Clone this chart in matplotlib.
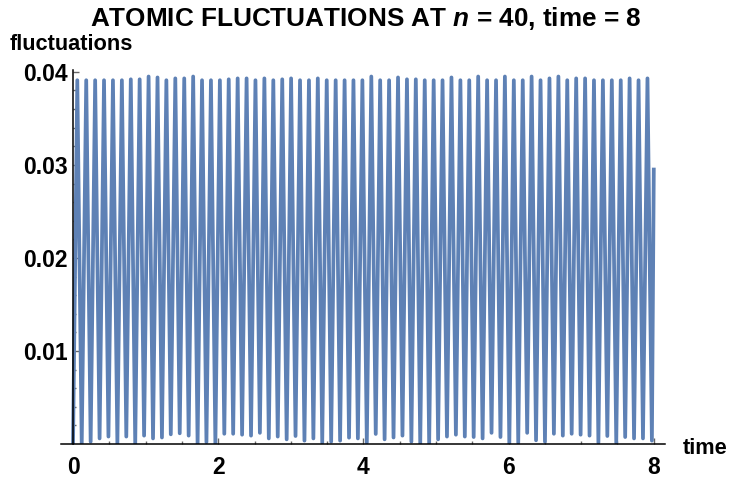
import matplotlib
matplotlib.use("Agg")
import matplotlib.pyplot as plt
from matplotlib.ticker import FixedLocator, FixedFormatter

plt.rcParams['font.family'] = ['Liberation Sans', 'DejaVu Sans']
plt.rcParams['mathtext.fontset'] = 'custom'
plt.rcParams['mathtext.it'] = 'Liberation Sans:italic:bold'
plt.rcParams['mathtext.rm'] = 'Liberation Sans:bold'

# local maxima of the fluctuation curve (time, value)
peak_t = [0.059, 0.182, 0.305, 0.427, 0.550, 0.673, 0.796, 0.918, 1.041, 1.164,
          1.286, 1.409, 1.532, 1.655, 1.777, 1.900, 2.023, 2.145, 2.268, 2.391,
          2.513, 2.636, 2.759, 2.882, 3.004, 3.127, 3.250, 3.372, 3.495, 3.618,
          3.741, 3.863, 3.986, 4.109, 4.231, 4.354, 4.477, 4.600, 4.722, 4.845,
          4.968, 5.090, 5.213, 5.336, 5.458, 5.581, 5.704, 5.827, 5.949, 6.072,
          6.195, 6.317, 6.440, 6.563, 6.686, 6.808, 6.931, 7.054, 7.176, 7.299,
          7.422, 7.545, 7.667, 7.790, 7.913]
peak_v = [0.0391, 0.0391, 0.0391, 0.0391, 0.0391, 0.0391, 0.0392, 0.0392, 0.0395, 0.0394,
          0.0391, 0.0393, 0.0393, 0.0395, 0.0391, 0.0391, 0.0391, 0.0392, 0.0393, 0.0393,
          0.0391, 0.0393, 0.0391, 0.0392, 0.0393, 0.0391, 0.0391, 0.0393, 0.0391, 0.0391,
          0.0391, 0.0391, 0.0391, 0.0395, 0.0391, 0.0391, 0.0394, 0.0392, 0.0392, 0.0391,
          0.0391, 0.0391, 0.0394, 0.0391, 0.0391, 0.0395, 0.0391, 0.0391, 0.0395, 0.0391,
          0.0391, 0.0395, 0.0391, 0.0393, 0.0395, 0.0391, 0.0393, 0.0393, 0.0391, 0.0391,
          0.0391, 0.0391, 0.0393, 0.0391, 0.0393]

# local minima (time, value)
trough_t = [0.120, 0.243, 0.366, 0.488, 0.611, 0.734, 0.857, 0.979, 1.102, 1.225,
            1.347, 1.470, 1.593, 1.716, 1.838, 1.961, 2.084, 2.206, 2.329, 2.452,
            2.574, 2.697, 2.820, 2.943, 3.065, 3.188, 3.311, 3.433, 3.556, 3.679,
            3.802, 3.924, 4.047, 4.170, 4.292, 4.415, 4.538, 4.661, 4.783, 4.906,
            5.029, 5.151, 5.274, 5.397, 5.519, 5.642, 5.765, 5.888, 6.010, 6.133,
            6.256, 6.378, 6.501, 6.624, 6.747, 6.869, 6.992, 7.115, 7.237, 7.360,
            7.483, 7.606, 7.728, 7.851, 7.974]
trough_v = [0.0000, 0.00025, 0.0006, 0.0008, 0.0000, 0.0008, 0.0000, 0.0009, 0.0006, 0.0007,
            0.00104, 0.00115, 0.0009, 0.0000, 0.0002, 0.0000, 0.0011, 0.0011, 0.0010, 0.0009,
            0.0012, 0.0006, 0.0008, 0.0005, 0.00086, 0.00036, 0.0006, 0.00014, 0.00025, 0.00036,
            0.00068, 0.0006, 0.00014, 0.00108, 0.0005, 0.0007, 0.0009, 0.00025, 0.0000, 0.0000,
            0.0005, 0.0008, 0.001, 0.0008, 0.00075, 0.0006, 0.0012, 0.00075, 0.0000, 0.00014,
            0.0012, 0.0004, 0.00025, 0.0011, 0.0009, 0.0011, 0.001, 0.0009, 0.00014, 0.00086,
            0.00014, 0.00075, 0.0006, 0.0006, 0.00036]

start = (0.0, 0.0)
end = (8.0, 0.0295)

xticks = [0, 2, 4, 6, 8]
yticks = [0.01, 0.02, 0.03, 0.04]
ylabels = ["0.01", "0.02", "0.03", "0.04"]

x = [start[0]]
y = [start[1]]
for pt, pv, tt, tv in zip(peak_t, peak_v, trough_t, trough_v):
    x += [pt, tt]
    y += [pv, tv]
x.append(end[0])
y.append(end[1])

fig = plt.figure(figsize=(7.29, 4.8), dpi=100)
ax = fig.add_axes([61.4 / 729, 36 / 480, 604 / 729, 374 / 480])
ax.plot(x, y, color='#5e81b5', lw=2.7, solid_joinstyle='round')

ax.set_xlim(-0.16, 8.16)
ax.set_ylim(0, 0.0402)

for s in ['top', 'right']:
    ax.spines[s].set_visible(False)
ax.spines['left'].set_position(('data', 0))
ax.spines['bottom'].set_position(('data', 0))
for s in ['left', 'bottom']:
    ax.spines[s].set_linewidth(1.1)
    ax.spines[s].set_color('black')

ax.xaxis.set_major_locator(FixedLocator(xticks))
ax.xaxis.set_minor_locator(FixedLocator([v + 0.5 * k for v in xticks[:-1] for k in (1, 2, 3)]))
ax.yaxis.set_major_locator(FixedLocator(yticks))
ax.yaxis.set_major_formatter(FixedFormatter(ylabels))
ax.yaxis.set_minor_locator(FixedLocator([round(0.002 * k, 3) for k in range(1, 20) if k % 5]))

ax.tick_params(which='both', direction='in', color='#666666', width=1.0)
ax.tick_params(which='major', length=4)
ax.tick_params(which='minor', length=2.5)
ax.tick_params(axis='x', which='major', pad=9, labelsize=16.5)
ax.tick_params(axis='y', which='major', pad=4, labelsize=16.5)
for lab in ax.get_xticklabels() + ax.get_yticklabels():
    lab.set_fontweight('bold')

fig.text(366 / 729, 1 - 18 / 480, r'ATOMIC FLUCTUATIONS AT $n$ = 40, time = 8',
         ha='center', va='center', fontsize=18.8, fontweight='bold')
fig.text(10 / 729, 1 - 45 / 480, 'fluctuations', ha='left', va='center',
         fontsize=15.7, fontweight='bold')
fig.text(683 / 729, 1 - 449 / 480, 'time', ha='left', va='center',
         fontsize=15.7, fontweight='bold')

fig.savefig('out.png', dpi=100)
